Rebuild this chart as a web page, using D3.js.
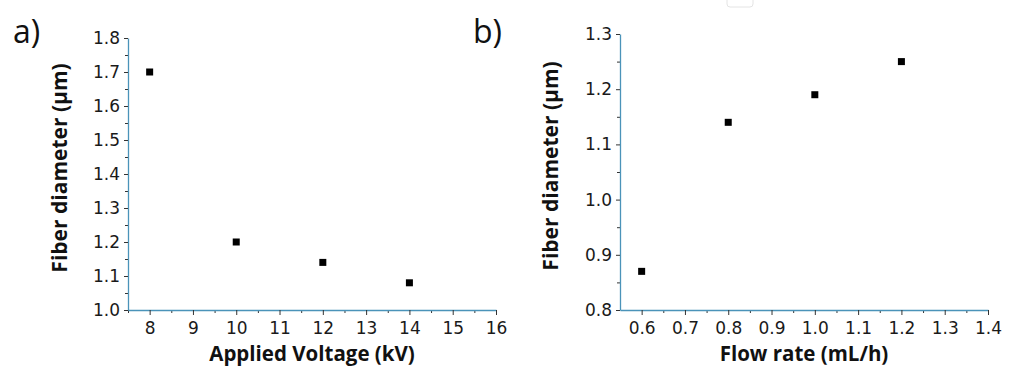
<!DOCTYPE html>
<html>
<head>
<meta charset="utf-8">
<script src="https://cdn.jsdelivr.net/npm/d3@7"></script>
<style>
  body { margin: 0; background: #fff; }
  svg { display: block; font-family: "Open Sans", sans-serif; }
</style>
</head>
<body>
<div id="chart"></div>
<script>
// panel a: fiber diameter vs applied voltage
const voltage = [8, 10, 12, 14];
const diameterA = [1.70, 1.20, 1.14, 1.08];
const voltageTicks = [8, 9, 10, 11, 12, 13, 14, 15, 16];
const diameterTicksA = [1.0, 1.1, 1.2, 1.3, 1.4, 1.5, 1.6, 1.7, 1.8];

// panel b: fiber diameter vs flow rate
const flowRate = [0.6, 0.8, 1.0, 1.2];
const diameterB = [0.87, 1.14, 1.19, 1.25];
const flowTicks = [0.6, 0.7, 0.8, 0.9, 1.0, 1.1, 1.2, 1.3, 1.4];
const diameterTicksB = [0.8, 0.9, 1.0, 1.1, 1.2, 1.3];

const W = 1011, H = 366;
const axisColor = "#4a93b9";

const svg = d3.select("#chart").append("svg")
  .attr("width", W)
  .attr("height", H);

// faint artifact box at top of the scan
svg.append("rect")
  .attr("x", 727).attr("y", -4).attr("width", 26).attr("height", 11)
  .attr("rx", 3)
  .attr("fill", "none")
  .attr("stroke", "#e4e4e4");

function panel(opts) {
  const x = d3.scaleLinear().domain(opts.xDomain).range([opts.left, opts.right]);
  const y = d3.scaleLinear().domain(opts.yDomain).range([opts.bottom, opts.top]);
  const g = svg.append("g");

  // minor ticks
  g.append("g")
    .attr("transform", `translate(0,${opts.bottom})`)
    .call(d3.axisBottom(x).tickValues(opts.xMinor).tickSize(3).tickFormat(""))
    .call(a => a.select(".domain").remove())
    .call(a => a.selectAll("line").attr("stroke", "#333"));
  g.append("g")
    .attr("transform", `translate(${opts.left},0)`)
    .call(d3.axisLeft(y).tickValues(opts.yMinor).tickSize(3).tickFormat(""))
    .call(a => a.select(".domain").remove())
    .call(a => a.selectAll("line").attr("stroke", "#333"));

  // major axes
  const xa = g.append("g")
    .attr("transform", `translate(0,${opts.bottom})`)
    .call(d3.axisBottom(x).tickValues(opts.xTicks).tickSize(5).tickSizeOuter(0)
      .tickPadding(7).tickFormat(opts.xFmt));
  const ya = g.append("g")
    .attr("transform", `translate(${opts.left},0)`)
    .call(d3.axisLeft(y).tickValues(opts.yTicks).tickSize(4).tickSizeOuter(0)
      .tickPadding(4).tickFormat(d3.format(".1f")));
  [xa, ya].forEach(a => {
    a.attr("font-size", null).attr("font-family", null);
    a.select(".domain").attr("stroke", axisColor).attr("stroke-width", 1.3);
    a.selectAll("line").attr("stroke", "#333");
    a.selectAll("text").attr("fill", "#1a1a1a").style("font-size", "17px")
      .style("font-family", "'DejaVu Sans', sans-serif");
  });

  // points
  g.append("g").selectAll("rect")
    .data(opts.xs.map((v, i) => [v, opts.ys[i]]))
    .join("rect")
    .attr("x", d => x(d[0]) - 3.5)
    .attr("y", d => y(d[1]) - 3.5)
    .attr("width", 7)
    .attr("height", 7)
    .attr("fill", "#000");

  // axis titles
  g.append("text")
    .attr("x", (opts.left + opts.right) / 2)
    .attr("y", opts.bottom + 51)
    .attr("text-anchor", "middle")
    .style("font-size", "20.5px")
    .attr("font-weight", "bold")
    .attr("fill", "#111")
    .text(opts.xTitle);
  g.append("text")
    .attr("transform", `translate(${opts.yTitleX},${opts.yTitleY}) rotate(-90)`)
    .attr("text-anchor", "middle")
    .style("font-size", "21px")
    .attr("font-weight", "bold")
    .attr("fill", "#111")
    .text("Fiber diameter (\u03bcm)");

  // panel label
  svg.append("text")
    .attr("x", opts.labelX)
    .attr("y", 43)
    .style("font-size", "32px")
    .attr("fill", "#111")
    .text(opts.label);
}

panel({
  label: "a)", labelX: 13,
  xs: voltage, ys: diameterA,
  xDomain: [7.5, 16], yDomain: [1.0, 1.8],
  left: 128, right: 496, top: 38, bottom: 310,
  xTicks: voltageTicks, yTicks: diameterTicksA,
  xMinor: d3.range(7.5, 16, 1),
  yMinor: d3.range(1.05, 1.8, 0.1),
  xFmt: d3.format("d"),
  xTitle: "Applied Voltage (kV)",
  yTitleX: 67, yTitleY: 168
});

panel({
  label: "b)", labelX: 473,
  xs: flowRate, ys: diameterB,
  xDomain: [0.55, 1.4], yDomain: [0.8, 1.3],
  left: 620, right: 988, top: 34, bottom: 310,
  xTicks: flowTicks, yTicks: diameterTicksB,
  xMinor: d3.range(0.65, 1.4, 0.1),
  yMinor: d3.range(0.85, 1.3, 0.1),
  xFmt: d3.format(".1f"),
  xTitle: "Flow rate (mL/h)",
  yTitleX: 558, yTitleY: 166
});
</script>
</body>
</html>
